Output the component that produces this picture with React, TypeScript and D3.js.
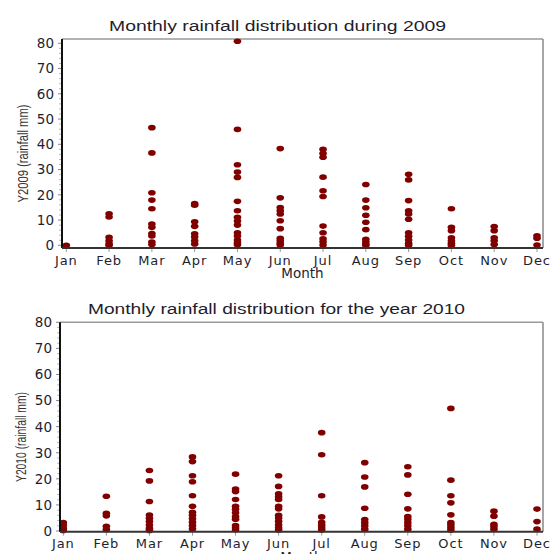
import React from 'react';
import { scaleLinear, range } from 'd3';

// month labels on the x axis
const months = ['Jan', 'Feb', 'Mar', 'Apr', 'May', 'Jun', 'Jul', 'Aug', 'Sep', 'Oct', 'Nov', 'Dec'];
const yTicks = [0, 10, 20, 30, 40, 50, 60, 70, 80];

// daily rainfall readings (mm) per month
const rain2009 = [
	[0],
	[12.5, 11.2, 3.2, 1.8, 0.6, 0],
	[46.6, 36.6, 20.8, 17.9, 14.5, 8.4, 7.1, 4.7, 3.7, 1.3, 0.3],
	[16.5, 15.9, 9.3, 7.5, 4.6, 3.3, 1.8, 0.5],
	[80.8, 45.9, 31.9, 29, 26.9, 17.4, 13.7, 11.1, 9.6, 8, 5, 3.7, 2.1, 1, 0.2],
	[38.3, 18.8, 15, 13.7, 12.4, 9.7, 6.6, 2.8, 1.8, 0.8, 0.1],
	[38, 36.4, 34.9, 27, 21.6, 19.3, 7.6, 5, 2.6, 1.4, 0.1],
	[24.1, 17.9, 14.9, 11.9, 9.1, 6.2, 2.4, 1.4, 0.5, 0],
	[28.1, 25.9, 17.7, 13.7, 12.4, 10.3, 5, 3.6, 2.1, 0.8, 0],
	[14.5, 7.1, 5.8, 3, 1.8, 0.8, 0],
	[7.4, 5.8, 3, 1.8, 0.3],
	[3.8, 2.8, 0.1]
];

const rain2010 = [
	[3.2, 2.2, 1, 0.2],
	[13.3, 6.8, 5.8, 1.8, 0.6],
	[23.2, 19.2, 11.3, 6.1, 4.9, 3.6, 2.3, 1, 0.2],
	[28.4, 26.6, 21.2, 18.9, 13.5, 9.5, 7.2, 6, 4.7, 3.4, 2.1, 0.8],
	[21.8, 16.1, 15.1, 12.1, 9.5, 8.3, 7, 5.5, 4.5, 2.1, 1.2, 0.5],
	[21.2, 17.1, 14.3, 13.1, 12.1, 9.5, 8.5, 6, 5, 3.7, 2.4, 1.2, 0.4],
	[37.7, 29.2, 13.5, 5.4, 3.3, 2.2, 1.2, 0.4],
	[26.2, 20.7, 16.9, 8.7, 4.4, 3.2, 2, 0.7],
	[24.6, 21.5, 14.1, 8.5, 5.5, 4.4, 3.2, 2, 0.7],
	[47, 19.5, 13.5, 10.8, 6.2, 3.2, 2.3, 1.3, 0.4],
	[7.6, 5.7, 2.6, 1.7, 0.7],
	[8.4, 3.6, 0.7]
];

const FONT = 'DejaVu Sans, Liberation Sans, sans-serif';
const INK = '#1e1e2e';

const Panel = ({ data, title, titleWidth, yLabel, yLabelWidth, box, xr, yr }) => {
	const x = scaleLinear().domain([0, 11]).range(xr);
	const y = scaleLinear().domain([0, 80]).range(yr);
	const minor = range(0, 81, 2).filter(v => v % 10 !== 0);
	const cx = (box.left + box.right) / 2;

	return (
		<g>
			<text x={cx - 25} y={box.top - 8} textAnchor="middle" fontSize={15.5} fill={INK}
				fontFamily="Liberation Sans, Arial, sans-serif" textLength={titleWidth} lengthAdjust="spacingAndGlyphs">
				{title}
			</text>

			{/* frame */}
			<line x1={box.left} x2={box.right} y1={box.top} y2={box.top} stroke="#999" strokeWidth={1.5} />
			<line x1={box.right} x2={box.right} y1={box.top} y2={box.bottom} stroke="#888" strokeWidth={1.5} />

			{/* y ticks */}
			{minor.map(v => (
				<line key={'m' + v} x1={box.left - 3} x2={box.left} y1={y(v)} y2={y(v)} stroke="#bbb" strokeWidth={1} />
			))}
			{yTicks.map(v => (
				<g key={v}>
					<line x1={box.left - 4} x2={box.left} y1={y(v)} y2={y(v)} stroke="#888" strokeWidth={1} />
					<text x={box.left - 8} y={y(v)} dy="0.36em" textAnchor="end" fontSize={13.5} fill={INK} fontFamily={FONT}>
						{v}
					</text>
				</g>
			))}

			{/* x ticks */}
			{months.map((m, i) => (
				<g key={m}>
					<line x1={x(i)} x2={x(i)} y1={box.bottom} y2={box.bottom + 4} stroke="#999" strokeWidth={1} />
					<text x={x(i)} y={box.bottom + 16.5} textAnchor="middle" fontSize={13} fill={INK} fontFamily={FONT}
						letterSpacing={0.9}>
						{m}
					</text>
				</g>
			))}

			<text x={cx} y={box.bottom + 30} textAnchor="middle" fontSize={13.5} fill={INK} fontFamily={FONT}>
				Month
			</text>

			<text transform={`translate(${box.left - 34},${(box.top + box.bottom) / 2 + 10}) rotate(-90)`}
				textAnchor="middle" fontSize={15} fill="#333" fontFamily="Liberation Sans, Arial, sans-serif"
				textLength={yLabelWidth} lengthAdjust="spacingAndGlyphs">
				{yLabel}
			</text>

			{/* points */}
			{data.map((vals, i) =>
				vals.map((v, j) => (
					<ellipse key={i + '-' + j} cx={x(i)} cy={y(v)} rx={3.8} ry={2.8} fill="#800000" />
				))
			)}

			{/* main axes */}
			<line x1={box.left} x2={box.left} y1={box.top} y2={box.bottom} stroke="#111" strokeWidth={2} />
			<line x1={box.left} x2={box.right} y1={box.bottom} y2={box.bottom} stroke="#333" strokeWidth={2} />
		</g>
	);
};

export default function App() {
	return (
		<svg width={552} height={554} style={{ position: 'absolute', left: 0, top: 0, background: '#fff' }}>
			<rect width={552} height={554} fill="#fff" />
			<Panel
				data={rain2009}
				title="Monthly rainfall distribution during 2009"
				titleWidth={337}
				yLabel="Y2009 (rainfall mm)"
				yLabelWidth={98}
				box={{ left: 62, right: 543, top: 39, bottom: 248 }}
				xr={[66.3, 537]}
				yr={[245.3, 43.3]}
			/>
			<Panel
				data={rain2010}
				title="Monthly rainfall distribution for the year 2010"
				titleWidth={377}
				yLabel="Y2010 (rainfall mm)"
				yLabelWidth={90}
				box={{ left: 60, right: 543, top: 322.3, bottom: 531.7 }}
				xr={[63.3, 537]}
				yr={[531, 322.3]}
			/>
		</svg>
	);
}
